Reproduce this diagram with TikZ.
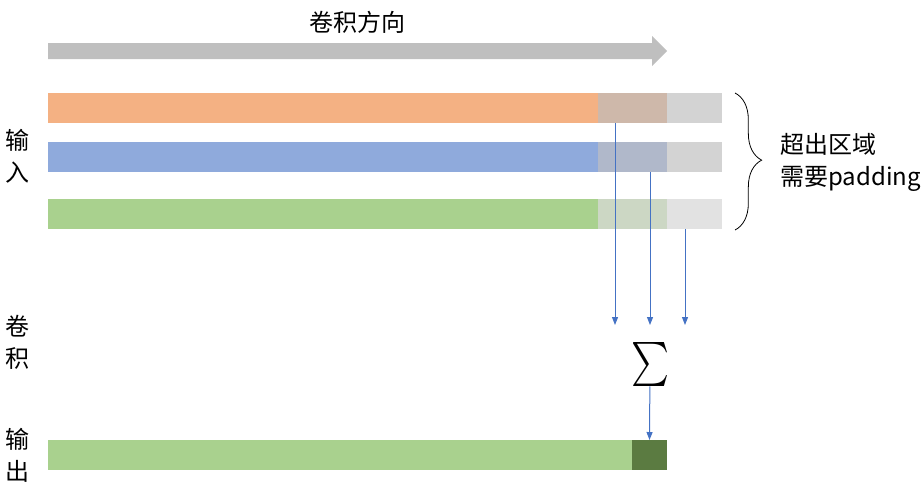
\documentclass[tikz,border=0pt]{standalone}
\usepackage{fontspec}
\usepackage{graphicx}
\setmainfont{Noto Sans CJK SC}
\usetikzlibrary{arrows.meta,positioning,decorations.pathreplacing}
\definecolor{barorange}{HTML}{F4B183}
\definecolor{barblue}{HTML}{8FAADC}
\definecolor{bargreen}{HTML}{A9D18E}
\definecolor{ovorange}{HTML}{CEB8AA}
\definecolor{ovblue}{HTML}{B0B8CA}
\definecolor{ovgreen}{HTML}{CCD7C4}
\definecolor{padgray}{HTML}{D3D3D3}
\definecolor{padlight}{HTML}{E2E2E2}
\definecolor{outdark}{HTML}{5B7B41}
\definecolor{dirgray}{HTML}{BFBFBF}
\definecolor{tapblue}{HTML}{4472C4}
\begin{document}
\begin{tikzpicture}[x=0.75pt,y=-0.75pt,
	seg/.style={anchor=north west,inner sep=0pt,outer sep=0pt,minimum height=22.5pt},
	label/.style={font=\fontsize{18}{24}\selectfont,align=center,inner sep=0pt},
	tap/.style={color=tapblue,line width=0.75pt,-{Triangle[width=4.5pt,length=6pt]}}]
	\useasboundingbox (0,0) rectangle (923,497);
	\fill[color=dirgray] (48,43) -- (652,43) -- (652,36) -- (667,51) -- (652,66) -- (652,59) -- (48,59) -- cycle;
	\node[label] (title) at (357,22) {卷积方向};
	\node[seg,fill=barorange,minimum width=412.5pt] (in1) at (48,93) {};
	\node[seg,fill=ovorange,minimum width=51.75pt,right=0pt of in1] (in1ov) {};
	\node[seg,fill=padgray,minimum width=41.25pt,right=0pt of in1ov] (in1pd) {};
	\node[seg,fill=barblue,minimum width=412.5pt] (in2) at (48,142) {};
	\node[seg,fill=ovblue,minimum width=51.75pt,right=0pt of in2] (in2ov) {};
	\node[seg,fill=padgray,minimum width=41.25pt,right=0pt of in2ov] (in2pd) {};
	\node[seg,fill=bargreen,minimum width=412.5pt] (in3) at (48,199) {};
	\node[seg,fill=ovgreen,minimum width=51.75pt,right=0pt of in3] (in3ov) {};
	\node[seg,fill=padlight,minimum width=41.25pt,right=0pt of in3ov] (in3pd) {};
	\node[seg,fill=bargreen,minimum width=438pt] (out1) at (48,440) {};
	\node[seg,fill=outdark,minimum width=26.25pt,right=0pt of out1] (out2) {};
	\node[label] (lin) at (18,156) {输\\入};
	\node[label] (lconv) at (18,342) {卷\\积};
	\node[label] (lout) at (18,455) {输\\出};
	\draw[semithick,decorate,decoration={brace,amplitude=20pt,aspect=0.49}] (735,93) -- (735,230) coordinate[pos=0.5] (brmid);
	\node[label,align=left,anchor=west] (pad) at (780,162) {超出区域\\需要padding};
	\coordinate (k1) at (615,325);
	\coordinate (k2) at (650,325);
	\coordinate (k3) at (685,325);
	\draw[tap] (k1 |- in1ov.south) -- (k1);
	\draw[tap] (k2 |- in2ov.south) -- (k2);
	\draw[tap] (k3 |- in3pd.south) -- (k3);
	\node[inner sep=0pt] (sum) at (650,364) {\scalebox{2.7}[3.3]{$\sum$}};
	\draw[tap] (sum) -- (out2.north);
\end{tikzpicture}
\end{document}
